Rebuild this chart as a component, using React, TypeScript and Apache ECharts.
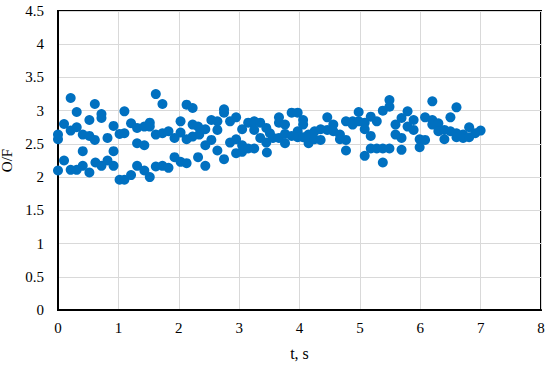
import React, { useEffect, useRef } from "react";
import * as echarts from "echarts";

const tValues: number[] = [
  0.0, 0.0, 0.0, 0.1, 0.1, 0.21, 0.21, 0.21, 0.31, 0.31, 0.31, 0.41, 0.41, 0.41,
  0.52, 0.52, 0.52, 0.61, 0.61, 0.62, 0.72, 0.72, 0.72, 0.82, 0.82, 0.92, 0.92, 0.92,
  1.02, 1.02, 1.1, 1.1, 1.1, 1.21, 1.21, 1.31, 1.31, 1.31, 1.43, 1.43, 1.43,
  1.52, 1.52, 1.52, 1.62, 1.62, 1.62, 1.73, 1.73, 1.73, 1.83, 1.83, 1.93, 1.93,
  2.03, 2.03, 2.03, 2.13, 2.13, 2.13, 2.23, 2.23, 2.23, 2.32, 2.32, 2.34,
  2.44, 2.44, 2.44, 2.54, 2.54, 2.64, 2.64, 2.64, 2.75, 2.75, 2.75, 2.85, 2.85,
  2.95, 2.95, 2.95, 3.05, 3.05, 3.05, 3.15, 3.15, 3.25, 3.25, 3.25, 3.35, 3.35,
  3.45, 3.45, 3.46, 3.51, 3.56, 3.66, 3.66, 3.66, 3.76, 3.76, 3.76, 3.87, 3.87,
  3.97, 3.97, 3.97, 4.06, 4.06, 4.06, 4.15, 4.15, 4.25, 4.25, 4.35, 4.35,
  4.46, 4.46, 4.56, 4.56, 4.67, 4.67, 4.77, 4.77, 4.77, 4.88, 4.88, 4.98, 4.98,
  5.08, 5.08, 5.08, 5.18, 5.18, 5.18, 5.28, 5.28, 5.38, 5.38, 5.38, 5.49, 5.49, 5.49,
  5.59, 5.59, 5.69, 5.69, 5.69, 5.79, 5.79, 5.89, 5.89, 5.99, 5.99, 6.08, 6.08,
  6.2, 6.2, 6.2, 6.3, 6.3, 6.4, 6.4, 6.5, 6.5, 6.6, 6.6, 6.6, 6.71, 6.71,
  6.81, 6.81, 6.91, 7.0,
];

const ofValues: number[] = [
  2.64, 2.57, 2.1, 2.8, 2.25, 3.19, 2.7, 2.11, 2.98, 2.75, 2.11, 2.64, 2.39, 2.17,
  2.86, 2.62, 2.07, 3.1, 2.56, 2.22, 2.95, 2.89, 2.17, 2.59, 2.25, 2.77, 2.39, 2.17,
  2.65, 1.96, 2.99, 2.66, 1.96, 2.81, 2.03, 2.74, 2.51, 2.17, 2.76, 2.48, 2.1,
  2.82, 2.76, 2.0, 3.25, 2.64, 2.16, 3.1, 2.66, 2.17, 2.69, 2.14, 2.59, 2.3,
  2.84, 2.67, 2.23, 3.09, 2.57, 2.21, 3.04, 2.79, 2.61, 2.76, 2.3, 2.64,
  2.72, 2.48, 2.17, 2.86, 2.56, 2.84, 2.71, 2.4, 3.02, 2.97, 2.27, 2.84, 2.52,
  2.9, 2.57, 2.36, 2.72, 2.48, 2.38, 2.82, 2.43, 2.84, 2.71, 2.43, 2.82, 2.59,
  2.74, 2.52, 2.37, 2.66, 2.59, 2.9, 2.82, 2.59, 2.79, 2.65, 2.51, 2.97, 2.62,
  2.97, 2.69, 2.6, 2.86, 2.79, 2.6, 2.64, 2.51, 2.69, 2.57, 2.72, 2.56,
  2.9, 2.71, 2.79, 2.69, 2.64, 2.57, 2.84, 2.56, 2.4, 2.84, 2.79, 2.98, 2.84,
  2.82, 2.72, 2.32, 2.91, 2.62, 2.43, 2.84, 2.43, 3.0, 2.43, 2.22, 3.16, 3.06, 2.43,
  2.79, 2.64, 2.89, 2.59, 2.41, 2.99, 2.76, 2.86, 2.71, 2.57, 2.45, 2.9, 2.56,
  3.14, 2.86, 2.79, 2.81, 2.69, 2.71, 2.57, 2.9, 2.69, 3.05, 2.66, 2.6, 2.64, 2.59,
  2.75, 2.6, 2.66, 2.7,
];

const xAxisName = "t, s";
const yAxisName = "O/F";

export default function App() {
  const ref = useRef<HTMLDivElement>(null);
  useEffect(() => {
    if (!ref.current) return;
    const chart = echarts.init(ref.current, undefined, { renderer: "svg" });
    const font = "Times New Roman, Liberation Serif, serif";
    const data = tValues.map((t, i) => [t, ofValues[i]]);
    chart.setOption({
      animation: false,
      backgroundColor: "#ffffff",
      textStyle: { fontFamily: font },
      grid: {
        left: 58,
        right: 9,
        top: 11,
        bottom: 55,
        containLabel: false,
        outerBoundsMode: "none",
        show: true,
        borderColor: "#000000",
        borderWidth: 2,
        backgroundColor: "transparent",
      },
      xAxis: {
        type: "value",
        min: 0,
        max: 8,
        interval: 1,
        name: xAxisName,
        nameLocation: "middle",
        nameGap: 35,
        nameTextStyle: { fontFamily: font, fontSize: 16, color: "#000" },
        axisLine: { show: true, lineStyle: { color: "#000", width: 2 } },
        axisTick: { show: false },
        axisLabel: { fontFamily: font, fontSize: 15, color: "#000", margin: 10 },
        splitLine: { show: true, lineStyle: { color: "#d9d9d9", width: 1 } },
      },
      yAxis: {
        type: "value",
        min: 0,
        max: 4.5,
        interval: 0.5,
        name: yAxisName,
        nameLocation: "middle",
        nameGap: 36,
        nameTextStyle: { fontFamily: font, fontSize: 15, color: "#000" },
        axisLine: { show: true, lineStyle: { color: "#000", width: 2 } },
        axisTick: { show: false },
        axisLabel: { fontFamily: font, fontSize: 15, color: "#000", margin: 14 },
        splitLine: { show: true, lineStyle: { color: "#d9d9d9", width: 1 } },
      },
      series: [
        {
          type: "scatter",
          data,
          symbol: "circle",
          symbolSize: 10,
          itemStyle: { color: "#0070C0", opacity: 1 },
        },
      ],
    });
    return () => chart.dispose();
  }, []);
  return (
    <div
      ref={ref}
      style={{ position: "fixed", left: 0, top: 0, width: 550, height: 365, background: "#fff" }}
    />
  );
}
